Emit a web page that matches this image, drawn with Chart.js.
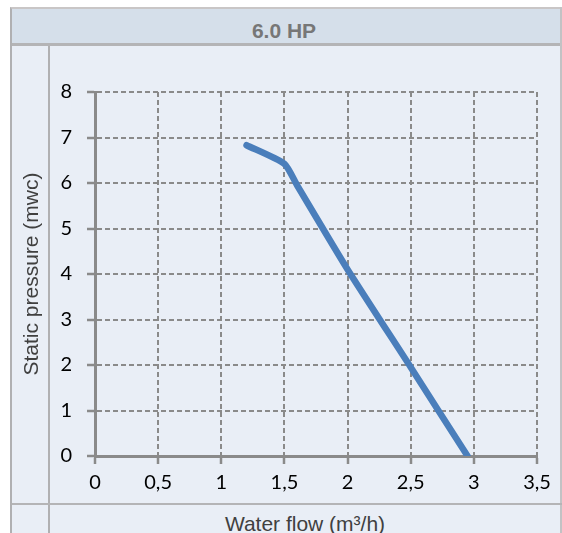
<!DOCTYPE html>
<html>
<head>
<meta charset="utf-8">
<script src="https://cdn.jsdelivr.net/npm/chart.js@4/dist/chart.umd.min.js"></script>
<style>
  html, body { margin: 0; padding: 0; background: #fff; width: 562px; height: 533px; overflow: hidden; }
  .cell { position: absolute; box-sizing: border-box; }
  #body { left: 10px; top: 7px; width: 552px; height: 526px; background: #e9eef6; border-left: 2px solid #b0b0b2; border-top: 2px solid #c9c6c6; }
  #head { left: 12px; top: 9px; width: 550px; height: 34px; background: #d5dfea; }
  #headLine { left: 12px; top: 43px; width: 550px; height: 3px; background: #b4b4b6; }
  #rightLine { left: 560px; top: 7px; width: 2px; height: 526px; background: #c2c2c4; }
  #vLine { left: 48px; top: 46px; width: 2px; height: 487px; background: #b0b0b2; }
  #footLine { left: 12px; top: 503px; width: 550px; height: 2px; background: #b4b4b6; }
  #title { left: 12px; top: 20px; width: 544px; text-align: center; font: bold 21px "Liberation Sans", Arial, sans-serif; line-height: 21px; color: #777777; }
  #xTitle { left: 50px; top: 513px; width: 510px; text-align: center; font: 21px "Liberation Sans", Arial, sans-serif; line-height: 21px; color: #404040; white-space: nowrap; }
  #wrap { position: absolute; left: 0; top: 0; width: 562px; height: 533px; }
</style>
</head>
<body>
<div class="cell" id="body"></div>
<div class="cell" id="head"></div>
<div class="cell" id="headLine"></div>
<div class="cell" id="rightLine"></div>
<div class="cell" id="vLine"></div>
<div class="cell" id="footLine"></div>
<div class="cell" id="title">6.0 HP</div>
<div class="cell" id="xTitle">Water flow (m³/h)</div>
<div id="wrap"><canvas id="pumpChart" width="562" height="533"></canvas></div>
<script>
// ---- data ----
var seriesName = "6.0 HP";
var flowValues = [1.2, 1.5, 1.6, 2.0, 2.5, 2.95];      // m3/h
var pressureValues = [6.83, 6.42, 5.95, 4.1, 1.95, 0];  // mwc
var xTickLabels = ["0", "0,5", "1", "1,5", "2", "2,5", "3", "3,5"];
var yTickLabels = ["0", "1", "2", "3", "4", "5", "6", "7", "8"];
var yAxisTitle = "Static pressure (mwc)";

// ---- styles ----
var lineColor = "#4a7ebb";
var gridColor = "#8a8a8a";
var tickFont = { family: "Lato, 'Open Sans', sans-serif", size: 20 };

var points = flowValues.map(function (f, i) { return { x: f, y: pressureValues[i] }; });

var ctx = document.getElementById('pumpChart').getContext('2d');
var pumpChart = new Chart(ctx, {
    type: 'scatter',
    data: {
        datasets: [{
            label: seriesName,
            data: points,
            showLine: true,
            borderColor: lineColor,
            backgroundColor: lineColor,
            borderWidth: 6.5,
            borderCapStyle: 'round',
            borderJoinStyle: 'round',
            pointRadius: 0,
            tension: 0.2
        }]
    },
    options: {
        responsive: false,
        animation: false,
        layout: { padding: { left: 0, top: 92, right: 25, bottom: 37 } },
        plugins: {
            legend: { display: false },
            tooltip: { enabled: false }
        },
        scales: {
            x: {
                type: 'linear',
                min: 0,
                max: 3.5,
                afterFit: function (scale) { scale.height = 40; },
                ticks: {
                    stepSize: 0.5,
                    padding: 7,
                    color: '#000000',
                    font: tickFont,
                    maxRotation: 0,
                    callback: function (v, i) { return xTickLabels[i]; }
                },
                grid: { color: gridColor, lineWidth: 2, tickLength: 8, tickWidth: 2.5 },
                border: { color: gridColor, width: 3, dash: [5, 3] }
            },
            y: {
                min: 0,
                max: 8,
                afterFit: function (scale) { scale.width = 95; },
                ticks: {
                    stepSize: 1,
                    padding: 15,
                    color: '#000000',
                    font: tickFont,
                    callback: function (v, i) { return yTickLabels[i]; }
                },
                grid: { color: gridColor, lineWidth: 2, tickLength: 8, tickWidth: 2.5 },
                border: { color: gridColor, width: 3, dash: [5, 3] },
                title: {
                    display: true,
                    text: yAxisTitle,
                    color: '#404040',
                    font: { family: "'Liberation Sans', Arial, sans-serif", size: 21 },
                    padding: 20
                }
            }
        }
    }
});
</script>
</body>
</html>
